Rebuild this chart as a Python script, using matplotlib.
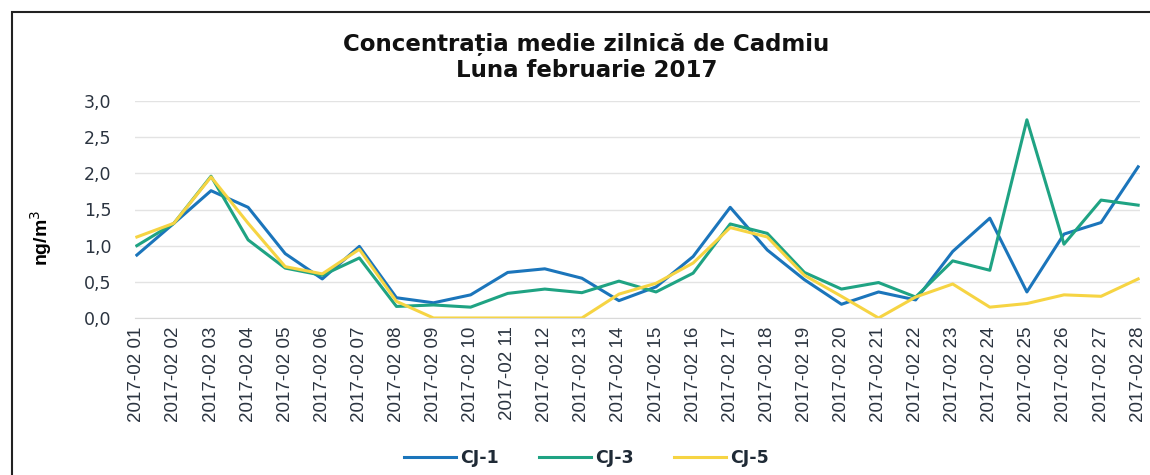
import matplotlib
matplotlib.use("Agg")
import matplotlib.pyplot as plt
from matplotlib.patches import Rectangle
from matplotlib.ticker import FuncFormatter

# ===== DATA =====
days = [f"2017-02 {d:02d}" for d in range(1, 29)]
cj1 = [0.87, 1.31, 1.76, 1.53, 0.89, 0.54, 0.99, 0.28, 0.21, 0.32, 0.63, 0.68, 0.55, 0.24,
       0.43, 0.85, 1.53, 0.94, 0.53, 0.19, 0.36, 0.25, 0.92, 1.38, 0.36, 1.16, 1.32, 2.09]
cj3 = [1.00, 1.31, 1.96, 1.08, 0.69, 0.59, 0.83, 0.16, 0.18, 0.15, 0.34, 0.40, 0.35, 0.51,
       0.36, 0.62, 1.30, 1.17, 0.63, 0.40, 0.49, 0.29, 0.79, 0.66, 2.74, 1.02, 1.63, 1.56]
cj5 = [1.12, 1.31, 1.95, 1.31, 0.71, 0.61, 0.95, 0.23, 0.00, 0.00, 0.00, 0.00, 0.00, 0.33,
       0.48, 0.76, 1.25, 1.12, 0.59, 0.30, 0.00, 0.29, 0.47, 0.15, 0.20, 0.32, 0.30, 0.54]
series = {"CJ-1": cj1, "CJ-3": cj3, "CJ-5": cj5}
line_colors = {"CJ-1": "#1b75bb", "CJ-3": "#1fa383", "CJ-5": "#f6d443"}

plt.rcParams['font.family'] = ['DejaVu Sans']

fig = plt.figure(figsize=(11.5, 4.75), dpi=100)
# plot area ~ x 135..1140 px, y 101..318 px
ax = fig.add_axes([135 / 1150, 1 - 318 / 475, 1005 / 1150, 217 / 475])

x = range(len(days))
for name, vals in series.items():
    ax.plot(x, vals, color=line_colors[name], lw=2.2, label=name)

ax.set_xlim(-0.05, len(days) - 0.95)
ax.set_ylim(0, 3.0)
ax.set_yticks([0, 0.5, 1.0, 1.5, 2.0, 2.5, 3.0])
ax.yaxis.set_major_formatter(FuncFormatter(lambda v, p: f"{v:.1f}".replace(".", ",")))
ax.set_xticks(list(x))
ax.set_xticklabels(days, rotation=90, fontsize=13.5, color="#2b3440",
                   family="Liberation Sans")
ax.tick_params(axis="y", labelsize=12.5, colors="#2b3440", length=0, pad=17)
ax.tick_params(axis="x", length=0, pad=6)
ax.grid(axis="y", color="#e3e3e3", lw=1)
ax.set_axisbelow(True)
for s in ["top", "right", "left"]:
    ax.spines[s].set_visible(False)
ax.spines["bottom"].set_color("#d9d9d9")

ax.set_ylabel("ng/m$^3$", fontsize=14, fontweight="bold", family="Liberation Sans")
ax.yaxis.set_label_coords(-0.081, 0.37)

fig.text(0.51, 0.908, "Concentrația medie zilnică de Cadmiu", ha="center", va="center",
         fontsize=16.5, fontweight="bold", color="#111111")
fig.text(0.51, 0.851, "Luna februarie 2017", ha="center", va="center",
         fontsize=16.5, fontweight="bold", color="#111111")

leg = fig.legend(loc="center", bbox_to_anchor=(0.51, 0.036), ncol=3, frameon=False,
                 handlelength=3.0, columnspacing=2.3, handletextpad=0.25,
                 prop={"weight": "bold", "size": 12.5})
for t in leg.get_texts():
    t.set_color("#1f2a36")

# outer chart frame
fig.patches.append(Rectangle((12 / 1150, -0.05), 1.1, 1 - 12 / 475 + 0.05,
                             transform=fig.transFigure, fill=False,
                             edgecolor="#222222", lw=1.5))

fig.savefig("out.png", dpi=100)
